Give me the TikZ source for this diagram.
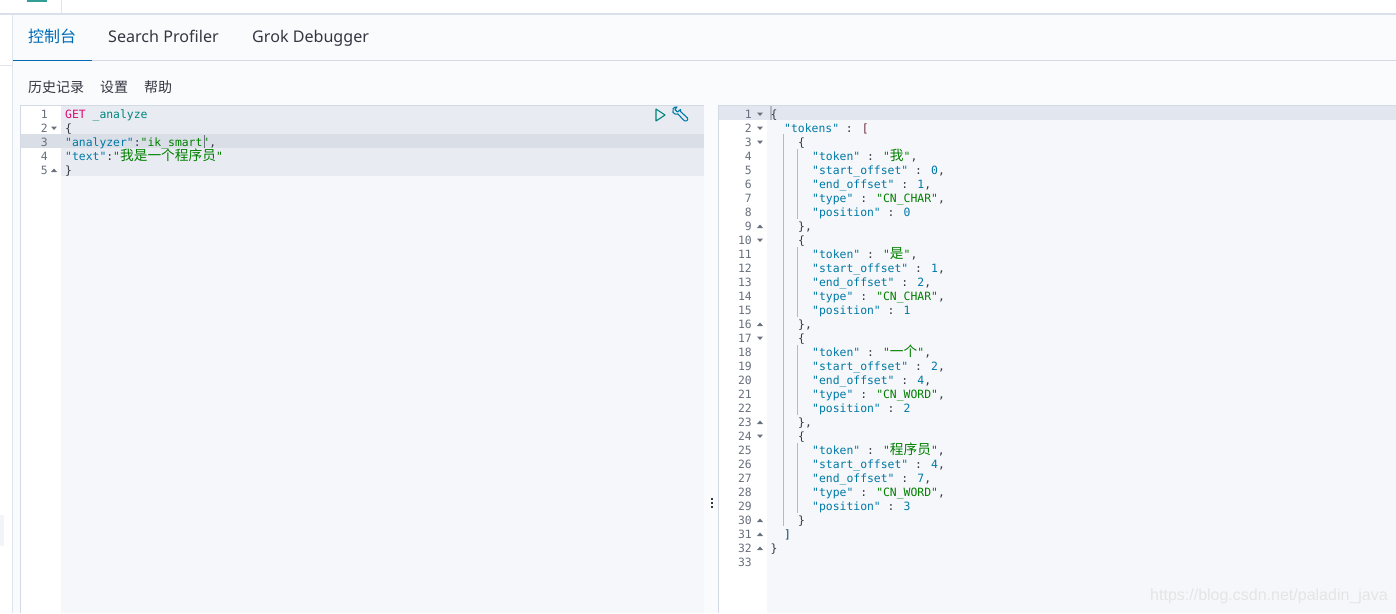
\documentclass[tikz,border=0pt]{standalone}
\usepackage{fontspec}
\setmainfont{Noto Sans}
\newfontfamily\cjk{Noto Sans CJK SC}
\newfontfamily\codefont{DejaVu Sans Mono}
\newfontfamily\markfont{Liberation Sans}
\definecolor{pagebg}{HTML}{FAFBFD}
\definecolor{codebg}{HTML}{F5F7FA}
\definecolor{rowbg}{HTML}{E8EBF2}
\definecolor{curbg}{HTML}{D9DEE7}
\definecolor{rulecol}{HTML}{D3DAE6}
\definecolor{guidecol}{HTML}{B4B9C2}
\definecolor{tabblue}{HTML}{006BB4}
\definecolor{keycol}{HTML}{0079A5}
\definecolor{strcol}{HTML}{017F00}
\definecolor{punctcol}{HTML}{343741}
\definecolor{numcol}{HTML}{69707D}
\definecolor{getcol}{HTML}{DD0A73}
\definecolor{pathcol}{HTML}{00857D}
\definecolor{inkcol}{HTML}{343741}
\definecolor{brackcol}{HTML}{6E2B3A}
\newcommand{\ckey}[1]{\textcolor{keycol}{#1}}
\newcommand{\cstr}[1]{\textcolor{strcol}{#1}}
\newcommand{\cnum}[1]{\textcolor{keycol}{#1}}
\newcommand{\czh}[1]{{\cjk\fontsize{13.7}{14}\selectfont #1}}
\tikzset{
    tabtext/.style={anchor=base west, inner sep=0pt, text=inkcol, font=\fontsize{16.1}{16}\selectfont},
    tabzh/.style={tabtext, text=tabblue, font=\cjk\fontsize{16}{16}\selectfont},
    menutext/.style={anchor=base west, inner sep=0pt, text=inkcol, font=\cjk\fontsize{14}{14}\selectfont},
    code/.style={anchor=base west, inner sep=0pt, text=punctcol, font=\codefont\fontsize{11.4}{14}\selectfont},
    linenum/.style={anchor=base east, inner sep=0pt, text=numcol, font=\codefont\fontsize{11.4}{14}\selectfont},
    foldmark/.style={fill=numcol},
    guide/.style={draw=guidecol, line width=0.9pt}
}
\begin{document}
\begin{tikzpicture}[x=1pt, y=-1pt]
    \useasboundingbox (0,0) rectangle (1396,613);
    % Page and bars
    \fill[white] (0,0) rectangle (1396,613);
    \fill[pagebg] (12,14) rectangle (1396,613);
    \fill[rulecol!85] (0,12.5) rectangle (1396,14.5);
    \fill[rulecol!70] (0,64.6) rectangle (12,65.4);
    \fill[rulecol!70] (12,14) rectangle (13,613);
    \fill[rulecol!70] (60.5,0) rectangle (61.3,13);
    \fill[rulecol!30] (0,515) rectangle (4,546);
    \fill[pathcol!80] (27,0) rectangle (47,2);
    \fill[rulecol] (13,60) rectangle (1396,61);
    \fill[tabblue] (13,59.5) rectangle (92,61);
    % Tabs
    \node[tabzh] (console) at (28,42) {控制台};
    \node[tabtext] (profiler) at (108,42) {Search Profiler};
    \node[tabtext] (grok) at (252,42) {Grok Debugger};
    \node[menutext] (history) at (28,92) {历史记录};
    \node[menutext] (settings) at (100,92) {设置};
    \node[menutext] (help) at (144,92) {帮助};
    % Left editor
    \fill[white] (20,105) rectangle (61,613);
    \fill[codebg] (61,105) rectangle (704,613);
    \fill[rowbg] (61,106) rectangle (704,176);
    \fill[curbg] (21,134) rectangle (704,148);
    \fill[rulecol] (20,105) rectangle (704,106);
    \fill[rulecol] (20,106) rectangle (21,613);
    % Right editor
    \fill[white] (719,105) rectangle (767,613);
    \fill[codebg] (767,105) rectangle (1396,613);
    \fill[rowbg!60!curbg] (719,106) rectangle (1396,120);
    \fill[rulecol] (719,105) rectangle (1396,106);
    \fill[rulecol] (718,105) rectangle (719,613);
    % Left code
    \foreach \n in {1,...,5}
        \node[linenum] (ln\n) at (48,{104+14*\n}) {\n};
    \fill[foldmark] (51,126.5) -- (57,126.5) -- (54,130) -- cycle;
    \fill[foldmark] (51,172) -- (57,172) -- (54,168.5) -- cycle;
    \node[code] (get) at (65,118) {\textcolor{getcol}{GET} \textcolor{pathcol}{\_analyze}};
    \node[code] (lopen) at (65,132) {\{};
    \node[code] (lanalyzer) at (65,146) {\ckey{"analyzer"}:\cstr{"ik\_smart"},};
    \node[code] (ltext) at (65,160) {\ckey{"text"}:\cstr{"\czh{我是一个程序员}"}};
    \node[code] (lclose) at (65,174) {\}};
    \fill[numcol] (204,135) rectangle (205,148);
    % Icons
    \draw[pathcol, line width=1.1pt, line join=round] (656,109) -- (665,115) -- (656,121) -- cycle;
    \draw[keycol, line width=1.1pt, line join=round] (680.5,109.5) -- (677.5,112) -- (675,109.5) -- (677,107)
        .. controls (673,106.5) and (672,110) .. (673,112.5) .. controls (674.5,114.5) and (676.5,114.5) .. (678,114)
        -- (683,119.5) .. controls (685,122.5) and (689,120.5) .. (687.5,118) -- (680.5,111.5) -- cycle;
    % Resize handle
    \foreach \d in {499,503,507}
        \fill[punctcol] (710.5,\d-1) rectangle (712.5,\d+1);
    % Right code
    \foreach \n in {1,...,33}
        \node[linenum] (rn\n) at (752,{104+14*\n}) {\n};
    \foreach \n in {1,2,3,10,17,24}
        \fill[foldmark] (757,{98.5+14*\n}) -- ++(6,0) -- ++(-3,3.5) -- cycle;
    \foreach \n in {9,16,23,30,31,32}
        \fill[foldmark] (757,{102+14*\n}) -- ++(6,0) -- ++(-3,-3.5) -- cycle;
    \draw[guide] (783.5,134) -- (783.5,526);
    \foreach \n in {4,11,18,25}
        \draw[guide] (797.5,{107+14*(\n-1)}) -- ++(0,70);
    \fill[guidecol] (770,106) rectangle (771.5,120);
    \node[code] (ropen) at (770.5,118) {\{};
    \node[code] (rtokens) at (784,132) {\ckey{"tokens"} : \textcolor{brackcol}{[}};
    \foreach \b/\tok/\so/\eo/\ty/\pos in {4/我/0/1/CN\_CHAR/0,11/是/1/2/CN\_CHAR/1,18/一个/2/4/CN\_WORD/2,25/程序员/4/7/CN\_WORD/3} {
        \node[code] (objo\b) at (798,{90+14*\b}) {\{};
        \node[code] (tok\b) at (812,{104+14*\b}) {\ckey{"token"} : \cstr{"\czh{\tok}"},};
        \node[code] (so\b) at (812,{118+14*\b}) {\ckey{"start\_offset"} : \cnum{\so},};
        \node[code] (eo\b) at (812,{132+14*\b}) {\ckey{"end\_offset"} : \cnum{\eo},};
        \node[code] (ty\b) at (812,{146+14*\b}) {\ckey{"type"} : \cstr{"\ty"},};
        \node[code] (pos\b) at (812,{160+14*\b}) {\ckey{"position"} : \cnum{\pos}};
    }
    \node[code] (objc1) at (798,230) {\},};
    \node[code] (objc2) at (798,328) {\},};
    \node[code] (objc3) at (798,426) {\},};
    \node[code] (objc4) at (798,524) {\}};
    \node[code] (rarr) at (784,538) {\textcolor{keycol!60!black}{]}};
    \node[code] (rclose) at (770.5,552) {\}};
    % Watermark
    \node[anchor=base west, inner sep=0pt, text=black!10, font=\markfont\fontsize{16}{16}\selectfont] (mark) at (1150,600) {https://blog.csdn.net/paladin\_java};
\end{tikzpicture}
\end{document}
